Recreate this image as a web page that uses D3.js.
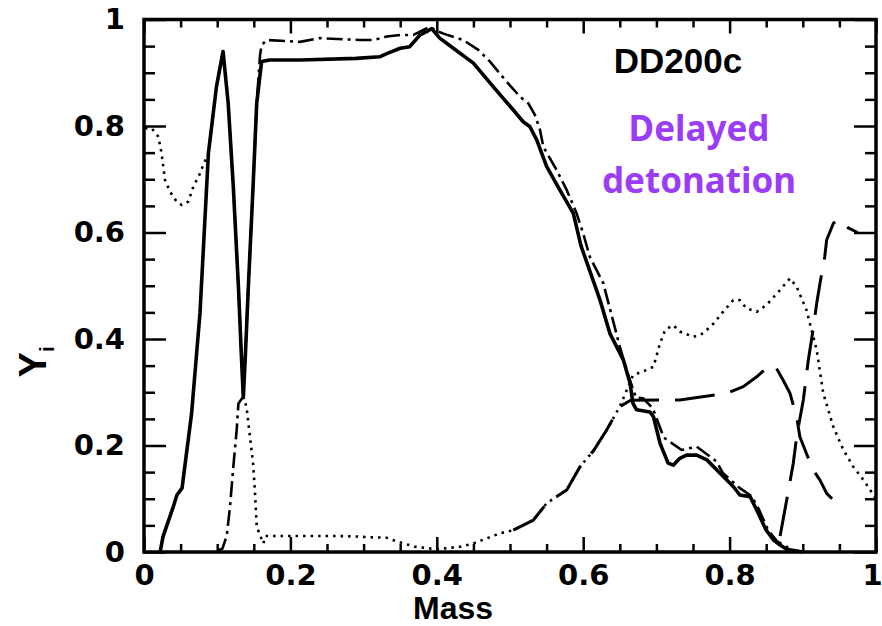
<!DOCTYPE html>
<html>
<head>
<meta charset="utf-8">
<script src="https://cdn.jsdelivr.net/npm/d3@7"></script>
<style>
  html, body { margin: 0; padding: 0; background: #fff; }
  svg { display: block; }
</style>
</head>
<body>
<svg id="chart" width="882" height="626"></svg>
<script>
// Abundance profiles Y_i against mass coordinate, model DD200c

// tick values and labels
const majorTicks = [0, 0.2, 0.4, 0.6, 0.8, 1];
const tickLabels = ["0", "0.2", "0.4", "0.6", "0.8", "1"];
const minorTicks = d3.range(1, 20).map(i => i * 0.05).filter(v => Math.abs(v * 5 - Math.round(v * 5)) > 1e-6);

// solid curve
const solidCurve = [
  [0.022,0],[0.026,0.029],[0.040,0.085],[0.045,0.107],[0.052,0.12],[0.065,0.26],[0.0765,0.449],
  [0.088,0.749],[0.099,0.874],[0.108,0.94],[0.115,0.843],[0.122,0.686],[0.129,0.498],[0.133,0.37],
  [0.1357,0.29],[0.1385,0.37],[0.1426,0.5],[0.149,0.686],[0.154,0.843],[0.1607,0.921],[0.172,0.924],
  [0.213,0.924],[0.29,0.927],[0.322,0.93],[0.3315,0.936],[0.35,0.946],[0.363,0.949],[0.377,0.971],
  [0.386,0.977],[0.393,0.983],[0.404,0.965],[0.4226,0.946],[0.45,0.918],[0.477,0.874],[0.5045,0.83],
  [0.518,0.808],[0.527,0.799],[0.5365,0.774],[0.55,0.724],[0.568,0.68],[0.5865,0.636],[0.597,0.575],
  [0.623,0.473],[0.6366,0.41],[0.655,0.36],[0.664,0.317],[0.668,0.279],[0.673,0.267],[0.691,0.263],
  [0.696,0.254],[0.705,0.204],[0.716,0.167],[0.723,0.163],[0.732,0.176],[0.741,0.182],[0.755,0.182],
  [0.769,0.173],[0.787,0.148],[0.805,0.123],[0.814,0.107],[0.828,0.104],[0.837,0.079],[0.85,0.041],
  [0.86,0.0225],[0.869,0.013],[0.878,0.005],[0.9,0]
];

// dash-dot curve
const dashDotCurve = [
  [0.1,0.003],[0.107,0.006],[0.113,0.03],[0.1175,0.085],[0.122,0.16],[0.1266,0.229],[0.129,0.279],
  [0.1357,0.292],[0.1426,0.5],[0.149,0.686],[0.154,0.843],[0.1585,0.933],[0.1607,0.952],[0.1676,0.9615],
  [0.213,0.958],[0.24,0.965],[0.295,0.9615],[0.313,0.9615],[0.3315,0.968],[0.35,0.971],[0.368,0.971],
  [0.377,0.977],[0.3907,0.9865],[0.3975,0.98],[0.41,0.973],[0.436,0.9615],[0.4567,0.943],[0.4727,0.9208],
  [0.4955,0.883],[0.5137,0.855],[0.525,0.8426],[0.534,0.8207],[0.541,0.7925],[0.5455,0.761],[0.5638,0.717],
  [0.5774,0.68],[0.591,0.636],[0.6,0.598],[0.609,0.5546],[0.6275,0.5046],[0.65,0.3856],[0.662,0.33],
  [0.672,0.29],[0.682,0.2886],[0.695,0.27],[0.71,0.215],[0.7345,0.1915],[0.755,0.198],[0.782,0.17],
  [0.791,0.148],[0.814,0.12],[0.83,0.105],[0.84,0.08],[0.853,0.04],[0.865,0.02],[0.88,0.008]
];

// dotted curve
const dottedCurve = [
  [0.0014,0.7957],[0.0105,0.7957],[0.0195,0.78],[0.024,0.749],[0.0264,0.7236],[0.0287,0.6986],
  [0.0355,0.6767],[0.0446,0.658],[0.0515,0.6516],[0.0605,0.658],[0.0674,0.686],[0.0765,0.711],
  [0.081,0.727],[0.088,0.749],[0.099,0.874],[0.108,0.94],[0.115,0.843],[0.122,0.686],[0.129,0.498],
  [0.1335,0.354],[0.1357,0.29],[0.14,0.273],[0.1426,0.242],[0.149,0.1666],[0.1517,0.11],[0.154,0.0475],
  [0.163,0.016],[0.166,0.03],[0.265,0.03],[0.29,0.029],[0.311,0.0275],[0.331,0.027],[0.345,0.02],
  [0.37,0.01],[0.4,0.005],[0.432,0.01],[0.45,0.016],[0.486,0.035],[0.5045,0.041],[0.532,0.06],
  [0.55,0.0915],[0.5775,0.1164],[0.5956,0.16],[0.614,0.19],[0.632,0.229],[0.65,0.273],[0.668,0.332],
  [0.687,0.342],[0.696,0.348],[0.705,0.392],[0.712,0.417],[0.723,0.426],[0.732,0.414],[0.7505,0.404],
  [0.764,0.4107],[0.778,0.429],[0.791,0.451],[0.805,0.473],[0.814,0.473],[0.823,0.4576],[0.837,0.451],
  [0.8505,0.464],[0.869,0.492],[0.8825,0.514],[0.8916,0.498],[0.905,0.4545],[0.919,0.379],[0.928,0.298],
  [0.9417,0.235],[0.9555,0.1915],[0.969,0.16],[0.983,0.135],[0.992,0.1164],[1.0,0.1]
];

// long-dashed curves
const dashedCurve = [
  [0.5045,0.041],[0.532,0.06],[0.55,0.0915],[0.5775,0.1164],[0.5956,0.16],[0.614,0.19],
  [0.632,0.229],[0.65,0.273],[0.665,0.285],[0.732,0.2855],[0.796,0.298],[0.8187,0.3105],[0.837,0.329],
  [0.855,0.351],[0.864,0.345],[0.873,0.323],[0.8825,0.298],[0.8916,0.254],[0.896,0.2165],[0.905,0.185],
  [0.914,0.154],[0.9235,0.135],[0.9326,0.11],[0.94,0.1]
];
const dashedRise = [
  [0.869,0.03],[0.873,0.06],[0.878,0.0977],[0.887,0.1666],[0.8916,0.2165],[0.9007,0.2855],[0.9075,0.36],
  [0.914,0.417],[0.919,0.467],[0.9235,0.5046],[0.93,0.5546],[0.9326,0.586],[0.9417,0.617],[0.948,0.625],
  [0.962,0.6085],[0.975,0.6]
];

const svg = d3.select("#chart");
const x = d3.scaleLinear().domain([0, 1]).range([144, 876]);
const y = d3.scaleLinear().domain([0, 1]).range([552, 19.5]);

const line = d3.line().x(d => x(d[0])).y(d => y(d[1]));

function drawCurve(data, width, dash) {
  svg.append("path")
    .datum(data)
    .attr("d", line)
    .attr("fill", "none")
    .attr("stroke", "#000")
    .attr("stroke-width", width)
    .attr("stroke-linejoin", "round")
    .attr("stroke-dasharray", dash);
}

drawCurve(dottedCurve, 2.6, "2.5,5");
drawCurve(dashDotCurve, 2.6, "16,5,3,5");
drawCurve(dashedCurve, 3, "40,16");
drawCurve(dashedRise, 3, "40,16");
drawCurve(solidCurve, 3.6, null);

// axes: ticks point inward on all four sides
const fmt = v => tickLabels[majorTicks.findIndex(t => Math.abs(t - v) < 1e-9)];

function styleAxis(g) {
  g.select(".domain").remove();
  g.selectAll(".tick line").attr("stroke", "#000").attr("stroke-width", 2.5);
  g.selectAll("text")
    .attr("fill", "#000")
    .attr("font-family", "DejaVu Sans")
    .attr("font-weight", "bold")
    .attr("font-size", 29);
}

const bottomAxis = svg.append("g").attr("transform", `translate(0,${y(0)})`)
  .call(d3.axisBottom(x).tickValues(majorTicks).tickSize(-15).tickPadding(12).tickFormat(fmt))
  .call(styleAxis);
// keep the last label inside the canvas
bottomAxis.selectAll(".tick text").filter(d => d === 1).attr("dx", -4);

svg.append("g").attr("transform", `translate(0,${y(0)})`)
  .call(d3.axisBottom(x).tickValues(minorTicks).tickSize(-8).tickFormat(""))
  .call(styleAxis);
svg.append("g").attr("transform", `translate(0,${y(1)})`)
  .call(d3.axisTop(x).tickValues(majorTicks).tickSize(-14).tickFormat(""))
  .call(styleAxis);
svg.append("g").attr("transform", `translate(0,${y(1)})`)
  .call(d3.axisTop(x).tickValues(minorTicks).tickSize(-8).tickFormat(""))
  .call(styleAxis);
svg.append("g").attr("transform", `translate(${x(0)},0)`)
  .call(d3.axisLeft(y).tickValues(majorTicks).tickSize(-22).tickPadding(19).tickFormat(fmt))
  .call(styleAxis);
svg.append("g").attr("transform", `translate(${x(0)},0)`)
  .call(d3.axisLeft(y).tickValues(minorTicks).tickSize(-11).tickFormat(""))
  .call(styleAxis);
svg.append("g").attr("transform", `translate(${x(1)},0)`)
  .call(d3.axisRight(y).tickValues(majorTicks).tickSize(-22).tickFormat(""))
  .call(styleAxis);
svg.append("g").attr("transform", `translate(${x(1)},0)`)
  .call(d3.axisRight(y).tickValues(minorTicks).tickSize(-11).tickFormat(""))
  .call(styleAxis);

// frame
svg.append("rect")
  .attr("x", x(0)).attr("y", y(1))
  .attr("width", x(1) - x(0)).attr("height", y(0) - y(1))
  .attr("fill", "none").attr("stroke", "#000").attr("stroke-width", 3.5);

// axis titles
svg.append("text")
  .attr("x", 453).attr("y", 619)
  .attr("text-anchor", "middle")
  .attr("font-family", "Liberation Sans").attr("font-weight", "bold").attr("font-size", 32)
  .text("Mass");

const yTitle = svg.append("text")
  .attr("transform", "translate(46,362) rotate(-90)")
  .attr("text-anchor", "middle")
  .attr("font-family", "Liberation Sans").attr("font-weight", "bold").attr("font-size", 38);
yTitle.append("tspan").text("Y");
yTitle.append("tspan").attr("font-size", 20).attr("dy", 8).text("i");

// annotations
svg.append("text")
  .attr("x", 678).attr("y", 73)
  .attr("text-anchor", "middle")
  .attr("font-family", "Liberation Sans").attr("font-weight", "bold").attr("font-size", 35)
  .text("DD200c");

const note = svg.append("text")
  .attr("text-anchor", "middle")
  .attr("font-family", "Noto Sans").attr("font-weight", "bold").attr("font-size", 35)
  .attr("fill", "#9b3cf7");
note.append("tspan").attr("x", 699).attr("y", 141).text("Delayed");
note.append("tspan").attr("x", 699).attr("y", 193).text("detonation");
</script>
</body>
</html>
